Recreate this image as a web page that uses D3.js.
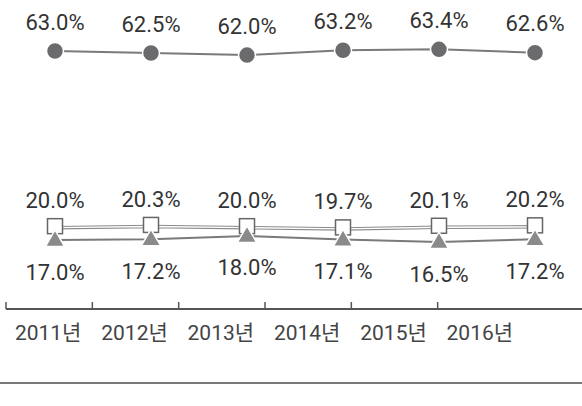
<!DOCTYPE html>
<html>
<head>
<meta charset="utf-8">
<script src="https://cdn.jsdelivr.net/npm/d3@7"></script>
<style>
  html, body { margin: 0; padding: 0; background: #fff; }
  svg { display: block; }
  text { font-family: Roboto, "Noto Sans CJK KR", sans-serif; }
</style>
</head>
<body>
<div id="chart"></div>
<script>
const years = ["2011년", "2012년", "2013년", "2014년", "2015년", "2016년"];
const circleValues = [63.0, 62.5, 62.0, 63.2, 63.4, 62.6];
const squareValues = [20.0, 20.3, 20.0, 19.7, 20.1, 20.2];
const triangleValues = [17.0, 17.2, 18.0, 17.1, 16.5, 17.2];

const width = 582, height = 406;

const svg = d3.select("#chart").append("svg")
  .attr("width", width)
  .attr("height", height);

// markers sit on their own point scale, axis labels on a band scale
const xPts = d3.scalePoint().domain(years).range([55, 535]);
const xBand = d3.scaleBand().domain(years).range([6, 524]);
const y = d3.scaleLinear().domain([17, 63]).range([240, 51]);

const line = d3.line()
  .x((d, i) => xPts(years[i]))
  .y(d => y(d));

// circle series
svg.append("path")
  .datum(circleValues)
  .attr("d", line)
  .attr("fill", "none")
  .attr("stroke", "#7a7a7a")
  .attr("stroke-width", 2);

// square series (double line)
svg.append("path")
  .datum(squareValues)
  .attr("d", line)
  .attr("fill", "none")
  .attr("stroke", "#8a8a8a")
  .attr("stroke-width", 3.5);
svg.append("path")
  .datum(squareValues)
  .attr("d", line)
  .attr("fill", "none")
  .attr("stroke", "#fff")
  .attr("stroke-width", 1.4);

// triangle series
svg.append("path")
  .datum(triangleValues)
  .attr("d", line)
  .attr("fill", "none")
  .attr("stroke", "#7a7a7a")
  .attr("stroke-width", 2);

svg.selectAll("rect.sq")
  .data(squareValues)
  .enter()
  .append("rect")
  .attr("class", "sq")
  .attr("x", (d, i) => xPts(years[i]) - 7.5)
  .attr("y", d => y(d) - 9)
  .attr("width", 15)
  .attr("height", 15)
  .attr("fill", "#fff")
  .attr("stroke", "#666")
  .attr("stroke-width", 1.5);

const tri = d3.symbol().type(d3.symbolTriangle).size(160);
svg.selectAll("path.tri")
  .data(triangleValues)
  .enter()
  .append("path")
  .attr("class", "tri")
  .attr("d", tri)
  .attr("transform", (d, i) => "translate(" + xPts(years[i]) + "," + (y(d) + 1) + ")")
  .attr("fill", "#8a8a8a")
  .attr("stroke", "#fff")
  .attr("stroke-width", 1.5);

svg.selectAll("circle.dot")
  .data(circleValues)
  .enter()
  .append("circle")
  .attr("class", "dot")
  .attr("cx", (d, i) => xPts(years[i]))
  .attr("cy", d => y(d))
  .attr("r", 8.5)
  .attr("fill", "#6b6b6e")
  .attr("stroke", "#fff")
  .attr("stroke-width", 1.5);

function labels(vals, dy) {
  svg.append("g").selectAll("text")
    .data(vals)
    .enter()
    .append("text")
    .attr("x", (d, i) => xPts(years[i]))
    .attr("y", d => y(d) + dy)
    .attr("text-anchor", "middle")
    .attr("dominant-baseline", "central")
    .attr("font-size", 22)
    .attr("fill", "#333")
    .text(d => d.toFixed(1) + "%");
}
labels(circleValues, -29);
labels(squareValues, -27);
labels(triangleValues, 32);

// axis
const axisY = 309;
svg.append("line")
  .attr("x1", xBand(years[0]))
  .attr("x2", width)
  .attr("y1", axisY)
  .attr("y2", axisY)
  .attr("stroke", "#555")
  .attr("stroke-width", 2);

svg.selectAll("line.tick")
  .data(years)
  .enter()
  .append("line")
  .attr("class", "tick")
  .attr("x1", d => xBand(d))
  .attr("x2", d => xBand(d))
  .attr("y1", axisY - 7)
  .attr("y2", axisY)
  .attr("stroke", "#555")
  .attr("stroke-width", 1.5);

svg.selectAll("text.year")
  .data(years)
  .enter()
  .append("text")
  .attr("class", "year")
  .attr("x", d => xBand(d) + xBand.bandwidth() / 2 - 1)
  .attr("y", 333)
  .attr("text-anchor", "middle")
  .attr("dominant-baseline", "central")
  .attr("font-size", 21)
  .attr("fill", "#444")
  .text(d => d);

svg.append("line")
  .attr("x1", 0)
  .attr("x2", width)
  .attr("y1", 383)
  .attr("y2", 383)
  .attr("stroke", "#7a7a7a")
  .attr("stroke-width", 2);
</script>
</body>
</html>
